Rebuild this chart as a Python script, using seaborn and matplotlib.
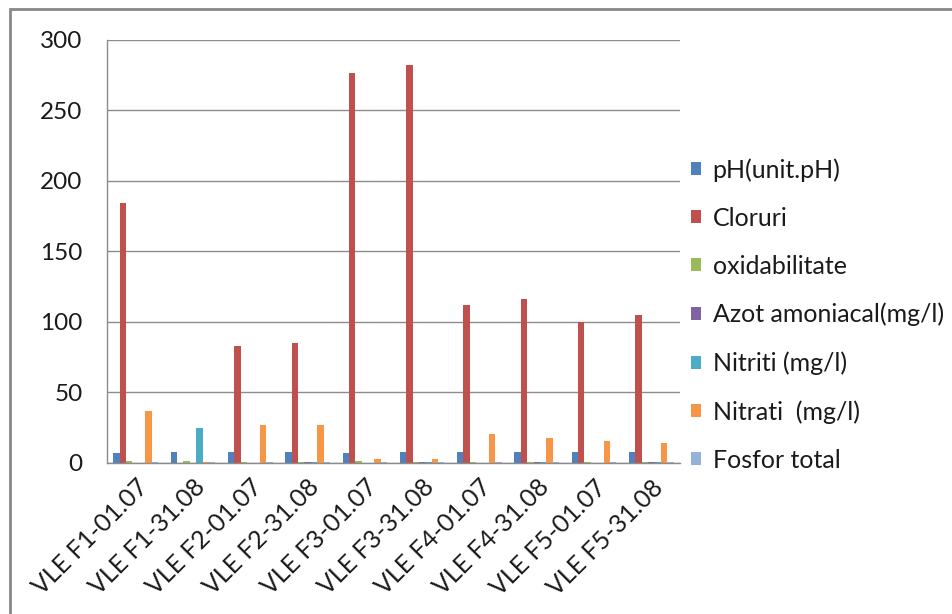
import matplotlib
matplotlib.use("Agg")
import matplotlib.pyplot as plt
import seaborn as sns
import pandas as pd
from matplotlib.patches import Rectangle

# Sampling points (well / date)
categories = ["VLE F1-01.07", "VLE F1-31.08", "VLE F2-01.07", "VLE F2-31.08",
              "VLE F3-01.07", "VLE F3-31.08", "VLE F4-01.07", "VLE F4-31.08",
              "VLE F5-01.07", "VLE F5-31.08"]

ph = [7.0, 7.6, 7.6, 7.6, 7.0, 7.6, 7.6, 7.6, 7.6, 7.6]
cloruri = [184, 0, 83, 85, 276, 282, 112, 116, 100, 105]
oxidabilitate = [1.5, 1.5, 0.5, 1.0, 1.5, 1.0, 0.5, 1.0, 1.0, 1.0]
azot_amoniacal = [0.3, 0.3, 0.3, 0.8, 0.3, 0.8, 0.3, 0.8, 0.3, 0.8]
nitriti = [0.1, 25, 0.1, 0.8, 0.1, 0.8, 0.1, 0.8, 0.1, 0.8]
nitrati = [37, 1.0, 27, 27, 3, 3, 20.5, 18, 15.5, 14]
fosfor_total = [0.5, 0.8, 0.5, 0.5, 0.5, 0.5, 0.5, 0.5, 0.5, 0.5]

series_names = ["pH(unit.pH)", "Cloruri", "oxidabilitate", "Azot amoniacal(mg/l)",
                "Nitriti (mg/l)", "Nitrati  (mg/l)", "Fosfor total"]
series_values = [ph, cloruri, oxidabilitate, azot_amoniacal, nitriti, nitrati, fosfor_total]
colors = ["#4F81BD", "#C0504D", "#9BBB59", "#8064A2", "#4BACC6", "#F79646", "#95B3D7"]

rows = []
for name, vals in zip(series_names, series_values):
    for cat, v in zip(categories, vals):
        rows.append({"Punct": cat, "Parametru": name, "Valoare": v})
df = pd.DataFrame(rows)

sns.set_style("white")
plt.rcParams["font.family"] = ["Lato", "DejaVu Sans"]

fig = plt.figure(figsize=(9.53, 6.14), dpi=100)
ax = fig.add_axes([0.1123, 0.246, 0.6012, 0.6895])

sns.barplot(data=df, x="Punct", y="Valoare", hue="Parametru",
            order=categories, hue_order=series_names,
            palette=colors, width=0.78, gap=0, saturation=1,
            linewidth=0, errorbar=None, ax=ax, legend=True)

grid_col = "#8c8c8c"
text_col = "#1a1a1a"
ax.set_ylim(0, 300)
ax.set_xlim(-0.5, len(categories) - 0.5)
ax.set_yticks(range(0, 301, 50))
ax.yaxis.grid(True, color=grid_col, linewidth=1.0)
ax.set_axisbelow(True)
ax.set_xlabel("")
ax.set_ylabel("")

# Category-boundary tick marks below the axis
ax.set_xticks([i - 0.5 for i in range(len(categories) + 1)], minor=True)
ax.set_xticks(range(len(categories)))
ax.set_xticklabels(categories, rotation=45, ha="right", rotation_mode="anchor",
                   fontsize=18, color=text_col)
ax.tick_params(axis="x", which="major", length=0, pad=9)
ax.tick_params(axis="x", which="minor", length=6.5, color=grid_col, width=1)
ax.tick_params(axis="y", length=6.5, color=grid_col, width=1, labelsize=17.5,
               labelcolor=text_col, pad=11)
for s in ["top", "right"]:
    ax.spines[s].set_visible(False)
for s in ["left", "bottom"]:
    ax.spines[s].set_color(grid_col)
    ax.spines[s].set_linewidth(1.0)

handles, labels = ax.get_legend_handles_labels()
ax.get_legend().remove()
fig.legend(handles, labels, loc="center left", bbox_to_anchor=(0.725, 0.487),
           frameon=False, fontsize=18, handlelength=0.42, handleheight=0.42,
           handletextpad=0.45, labelspacing=1.0, labelcolor=text_col,
           borderpad=0, borderaxespad=0)

# Chart frame
fig.patches.append(Rectangle((0.0105, -0.05), 1.2, 1.035, transform=fig.transFigure,
                             fill=False, edgecolor="#888888", linewidth=2.0))

fig.savefig("out.png", dpi=100)
